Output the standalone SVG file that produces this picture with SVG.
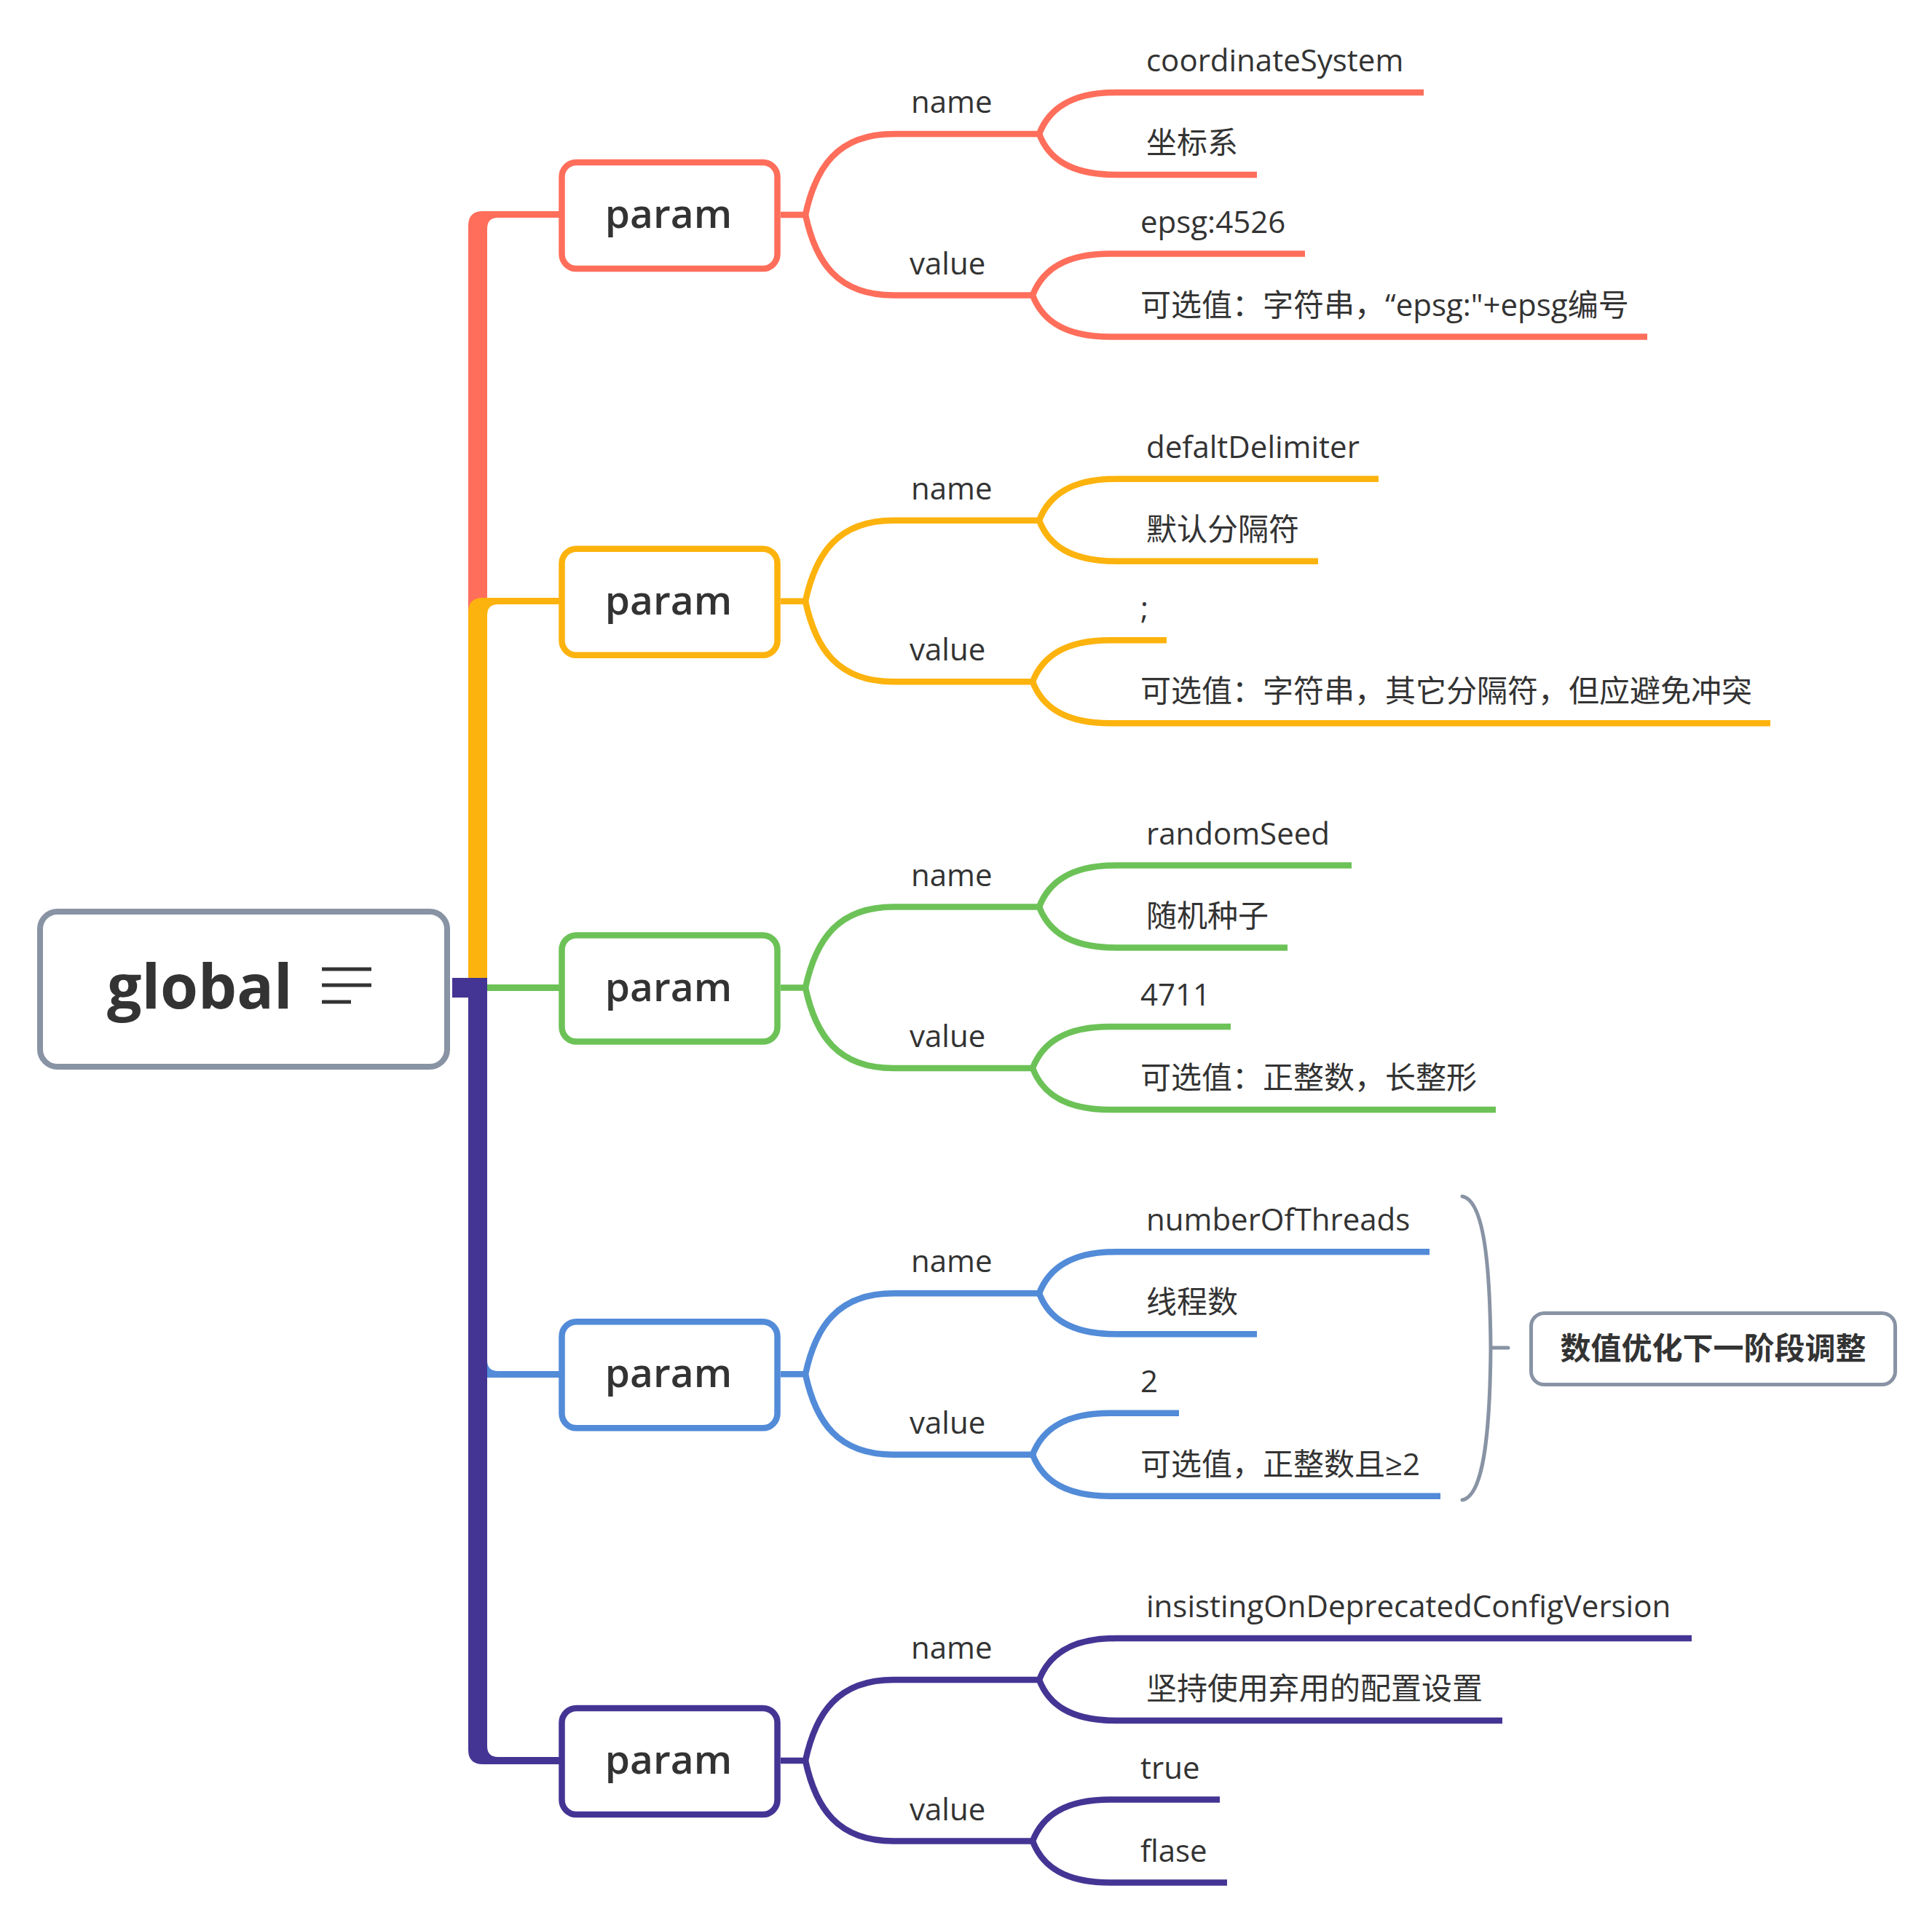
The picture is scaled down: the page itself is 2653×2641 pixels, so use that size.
<svg xmlns="http://www.w3.org/2000/svg" width="2653" height="2641" viewBox="0 0 2653 2641">
<defs>
<style>
text{font-family:"Open Sans","Noto Sans CJK SC",sans-serif;fill:#333333}
.leaf{font-size:42px}
.param{font-size:55px;font-weight:600;text-anchor:middle}
.root{font-size:84px;font-weight:700}
.sum{font-size:42px;font-weight:700;text-anchor:middle}
.ln{fill:none;stroke-width:8.5;stroke-linecap:butt}
.box{fill:#ffffff;stroke-width:8.5}
.red{stroke:#FF6E5B}.redf{fill:#FF6E5B}
.yel{stroke:#FDB30D}.yelf{fill:#FDB30D}
.grn{stroke:#6CC257}.grnf{fill:#6CC257}
.blu{stroke:#528BD8}.bluf{fill:#528BD8}
.pur{stroke:#443594}.purf{fill:#443594}
.gray{stroke:#8893A4}
</style>
</defs>
<rect width="2653" height="2641" fill="#ffffff"/>
<g id="connectors">
  <path class="redf" d="M643,1370 V310 Q643,290 663,290 H772 V299 H684 Q669,299 669,314 V1370 Z"/>
  <path class="yelf" d="M643,1370 V841 Q643,821 663,821 H772 V830 H684 Q669,830 669,845 V1370 Z"/>
  <path class="grnf" d="M660,1352 H772 V1361 H660 Z"/>
  <path class="bluf" d="M643,1343 V1872 Q643,1892 663,1892 H772 V1883 H684 Q669,1883 669,1868 V1343 Z"/>
  <path class="purf" d="M621,1343 H669 V2398 Q669,2413 684,2413 H772 V2423 H663 Q643,2423 643,2403 V1370 H621 Z"/>
  <g class="ln red" transform="translate(0,295)">
    <path d="M1072,0 H1106 C1120,-65 1150,-111 1227,-111 H1427"/>
    <path d="M1106,0 C1120,65 1150,110.5 1227,110.5 H1418"/>
    <path d="M1427,-111 C1440,-145 1470,-168 1533,-168 H1955"/>
    <path d="M1427,-111 C1440,-77 1470,-55 1533,-55 H1726"/>
    <path d="M1418,110.5 C1431,76.5 1461,53.5 1524,53.5 H1792"/>
    <path d="M1418,110.5 C1431,144.5 1461,167.5 1524,167.5 H2262"/>
  </g>
  <g class="ln yel" transform="translate(0,825.75)">
    <path d="M1072,0 H1106 C1120,-65 1150,-111 1227,-111 H1427"/>
    <path d="M1106,0 C1120,65 1150,110.5 1227,110.5 H1418"/>
    <path d="M1427,-111 C1440,-145 1470,-168 1533,-168 H1893"/>
    <path d="M1427,-111 C1440,-77 1470,-55 1533,-55 H1810"/>
    <path d="M1418,110.5 C1431,76.5 1461,53.5 1524,53.5 H1602"/>
    <path d="M1418,110.5 C1431,144.5 1461,167.5 1524,167.5 H2431"/>
  </g>
  <g class="ln grn" transform="translate(0,1356.5)">
    <path d="M1072,0 H1106 C1120,-65 1150,-111 1227,-111 H1427"/>
    <path d="M1106,0 C1120,65 1150,110.5 1227,110.5 H1418"/>
    <path d="M1427,-111 C1440,-145 1470,-168 1533,-168 H1856"/>
    <path d="M1427,-111 C1440,-77 1470,-55 1533,-55 H1768"/>
    <path d="M1418,110.5 C1431,76.5 1461,53.5 1524,53.5 H1690"/>
    <path d="M1418,110.5 C1431,144.5 1461,167.5 1524,167.5 H2054"/>
  </g>
  <g class="ln blu" transform="translate(0,1887.25)">
    <path d="M1072,0 H1106 C1120,-65 1150,-111 1227,-111 H1427"/>
    <path d="M1106,0 C1120,65 1150,110.5 1227,110.5 H1418"/>
    <path d="M1427,-111 C1440,-145 1470,-168 1533,-168 H1963"/>
    <path d="M1427,-111 C1440,-77 1470,-55 1533,-55 H1726"/>
    <path d="M1418,110.5 C1431,76.5 1461,53.5 1524,53.5 H1619"/>
    <path d="M1418,110.5 C1431,144.5 1461,167.5 1524,167.5 H1978"/>
  </g>
  <g class="ln pur" transform="translate(0,2418)">
    <path d="M1072,0 H1106 C1120,-65 1150,-111 1227,-111 H1427"/>
    <path d="M1106,0 C1120,65 1150,110.5 1227,110.5 H1418"/>
    <path d="M1427,-111 C1440,-145 1470,-168 1533,-168 H2323"/>
    <path d="M1427,-111 C1440,-77 1470,-55 1533,-55 H2063"/>
    <path d="M1418,110.5 C1431,76.5 1461,53.5 1524,53.5 H1675"/>
    <path d="M1418,110.5 C1431,144.5 1461,167.5 1524,167.5 H1685"/>
  </g>
  <path class="gray" fill="none" stroke-width="5" stroke-linecap="round" d="M2008,1643 C2035,1648 2046,1720 2047,1851 C2046,1982 2035,2055 2008,2060 M2047,1851 H2071"/>
</g>
<g id="root">
  <rect x="55" y="1252" width="559" height="213" rx="24" fill="#ffffff" stroke="#8893A4" stroke-width="8"/>
  <text class="root" x="147" y="1385">global</text>
  <g stroke="#333333" stroke-width="5">
    <line x1="442" y1="1331" x2="510" y2="1331"/>
    <line x1="442" y1="1353" x2="510" y2="1353"/>
    <line x1="442" y1="1376" x2="482" y2="1376"/>
  </g>
</g>
<g id="param1" transform="translate(0,295)">
  <rect class="box red" x="771.5" y="-72" width="296" height="146" rx="20"/>
  <text class="param" x="918" y="18">param</text>
</g>
<g id="param1-name" transform="translate(0,295)"><text class="leaf" x="1251" y="-140">name</text></g>
<g id="param1-value" transform="translate(0,295)"><text class="leaf" x="1249" y="81.5">value</text></g>
<g id="param1-n1" transform="translate(0,295)"><text class="leaf" x="1574" y="-197">coordinateSystem</text></g>
<g id="param1-n2" transform="translate(0,295)"><text class="leaf" x="1574" y="-84">坐标系</text></g>
<g id="param1-v1" transform="translate(0,295)"><text class="leaf" x="1566" y="24.5">epsg:4526</text></g>
<g id="param1-v2" transform="translate(0,295)"><text class="leaf" x="1566" y="138.5">可选值：字符串，“epsg:"+epsg编号</text></g>

<g id="param2" transform="translate(0,825.75)">
  <rect class="box yel" x="771.5" y="-72" width="296" height="146" rx="20"/>
  <text class="param" x="918" y="18">param</text>
</g>
<g id="param2-name" transform="translate(0,825.75)"><text class="leaf" x="1251" y="-140">name</text></g>
<g id="param2-value" transform="translate(0,825.75)"><text class="leaf" x="1249" y="81.5">value</text></g>
<g id="param2-n1" transform="translate(0,825.75)"><text class="leaf" x="1574" y="-197">defaltDelimiter</text></g>
<g id="param2-n2" transform="translate(0,825.75)"><text class="leaf" x="1574" y="-84">默认分隔符</text></g>
<g id="param2-v1" transform="translate(0,825.75)"><text class="leaf" x="1566" y="24.5">;</text></g>
<g id="param2-v2" transform="translate(0,825.75)"><text class="leaf" x="1566" y="138.5">可选值：字符串，其它分隔符，但应避免冲突</text></g>

<g id="param3" transform="translate(0,1356.5)">
  <rect class="box grn" x="771.5" y="-72" width="296" height="146" rx="20"/>
  <text class="param" x="918" y="18">param</text>
</g>
<g id="param3-name" transform="translate(0,1356.5)"><text class="leaf" x="1251" y="-140">name</text></g>
<g id="param3-value" transform="translate(0,1356.5)"><text class="leaf" x="1249" y="81.5">value</text></g>
<g id="param3-n1" transform="translate(0,1356.5)"><text class="leaf" x="1574" y="-197">randomSeed</text></g>
<g id="param3-n2" transform="translate(0,1356.5)"><text class="leaf" x="1574" y="-84">随机种子</text></g>
<g id="param3-v1" transform="translate(0,1356.5)"><text class="leaf" x="1566" y="24.5">4711</text></g>
<g id="param3-v2" transform="translate(0,1356.5)"><text class="leaf" x="1566" y="138.5">可选值：正整数，长整形</text></g>

<g id="param4" transform="translate(0,1887.25)">
  <rect class="box blu" x="771.5" y="-72" width="296" height="146" rx="20"/>
  <text class="param" x="918" y="18">param</text>
</g>
<g id="param4-name" transform="translate(0,1887.25)"><text class="leaf" x="1251" y="-140">name</text></g>
<g id="param4-value" transform="translate(0,1887.25)"><text class="leaf" x="1249" y="81.5">value</text></g>
<g id="param4-n1" transform="translate(0,1887.25)"><text class="leaf" x="1574" y="-197">numberOfThreads</text></g>
<g id="param4-n2" transform="translate(0,1887.25)"><text class="leaf" x="1574" y="-84">线程数</text></g>
<g id="param4-v1" transform="translate(0,1887.25)"><text class="leaf" x="1566" y="24.5">2</text></g>
<g id="param4-v2" transform="translate(0,1887.25)"><text class="leaf" x="1566" y="138.5">可选值，正整数且≥2</text></g>

<g id="param5" transform="translate(0,2418)">
  <rect class="box pur" x="771.5" y="-72" width="296" height="146" rx="20"/>
  <text class="param" x="918" y="18">param</text>
</g>
<g id="param5-name" transform="translate(0,2418)"><text class="leaf" x="1251" y="-140">name</text></g>
<g id="param5-value" transform="translate(0,2418)"><text class="leaf" x="1249" y="81.5">value</text></g>
<g id="param5-n1" transform="translate(0,2418)"><text class="leaf" x="1574" y="-197">insistingOnDeprecatedConfigVersion</text></g>
<g id="param5-n2" transform="translate(0,2418)"><text class="leaf" x="1574" y="-84">坚持使用弃用的配置设置</text></g>
<g id="param5-v1" transform="translate(0,2418)"><text class="leaf" x="1566" y="24.5">true</text></g>
<g id="param5-v2" transform="translate(0,2418)"><text class="leaf" x="1566" y="138.5">flase</text></g>

<g id="summary">
  <rect x="2102.5" y="1803.5" width="500" height="98" rx="18" fill="#ffffff" stroke="#8893A4" stroke-width="5"/>
  <text class="sum" x="2352.5" y="1867">数值优化下一阶段调整</text>
</g>
</svg>
